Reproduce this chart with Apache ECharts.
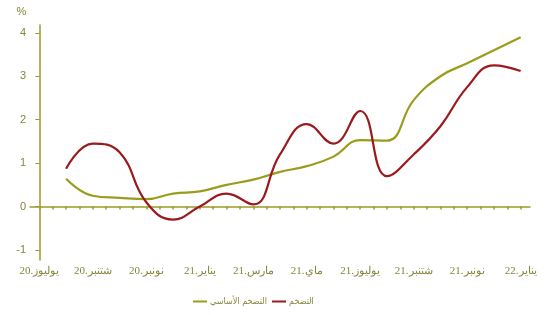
<!DOCTYPE html>
<html>
<head>
<meta charset="utf-8">
<script src="https://cdn.jsdelivr.net/npm/echarts@6/dist/echarts.min.js"></script>
<style>
  html, body { margin: 0; padding: 0; background: #fff; }
  #main { width: 548px; height: 315px; }
</style>
</head>
<body>
<div id="main"></div>
<script>
// months on the axis, Jul 2020 .. Jan 2022
var categories = [
  '20.يوليوز', '20.غشت', '20.شتنبر', '20.أكتوبر', '20.نونبر', '20.دجنبر',
  '21.يناير', '21.فبراير', '21.مارس', '21.أبريل', '21.ماي', '21.يونيو',
  '21.يوليوز', '21.غشت', '21.شتنبر', '21.أكتوبر', '21.نونبر', '21.دجنبر',
  '22.يناير'
];
// both series start in Aug 2020 (index 1)
var firstIndex = 1;
var coreInflation = [0.64, 0.25, 0.2, 0.17, 0.3, 0.35, 0.5, 0.62, 0.8, 0.93, 1.15, 1.53, 1.52, 2.45, 3.0, 3.3, 3.6, 3.9];
var inflation = [0.87, 1.45, 1.25, 0.1, -0.3, 0.0, 0.3, 0.05, 1.2, 1.9, 1.45, 2.2, 0.7, 1.2, 1.85, 2.75, 3.25, 3.12];
var yTicks = [-1, 0, 1, 2, 3, 4];
var seriesNames = ['التضخم الأساسي', 'التضخم'];

var olive = '#9a9a24';
var textColor = '#86863c';

function toPoints(values) {
  return values.map(function (v, i) { return [i + firstIndex, v]; });
}

var xTicks = [];
var xLabels = [];
for (var i = 0; i < categories.length; i++) {
  xTicks.push(i);
  if (i < categories.length - 1) xTicks.push(i + 0.5);
  if (i % 2 === 0) xLabels.push(i);
}

var chart = echarts.init(document.getElementById('main'), null, { renderer: 'canvas' });
var option = {
  backgroundColor: '#ffffff',
  animation: false,
  grid: { left: 30, right: 18, top: 25, bottom: 55, containLabel: false },
  legend: {
    left: 188,
    top: 292,
    itemGap: 5,
    itemWidth: 14,
    itemHeight: 2,
    icon: 'rect',
    textStyle: { color: textColor, fontSize: 9, fontFamily: 'DejaVu Sans Condensed', padding: [0, 0, 0, -2] },
    data: seriesNames
  },
  xAxis: {
    type: 'value',
    min: -0.35,
    max: 18.35,
    axisLine: { lineStyle: { color: olive, width: 1.5 } },
    axisTick: { customValues: xTicks, length: 3, lineStyle: { color: olive, width: 1.5 } },
    axisLabel: {
      customValues: xLabels,
      color: textColor,
      fontSize: 11,
      fontFamily: 'Liberation Serif',
      margin: 6,
      formatter: function (v) { return categories[Math.round(v)] || ''; }
    },
    splitLine: { show: false }
  },
  yAxis: {
    type: 'value',
    min: -1.23,
    max: 4.18,
    name: '%',
    nameLocation: 'end',
    nameGap: 8,
    nameTextStyle: { color: textColor, fontSize: 11, fontFamily: 'Liberation Sans', align: 'right', padding: [0, 13, 0, 0] },
    axisLine: { show: true, lineStyle: { color: olive, width: 1.5 } },
    axisTick: { show: true, customValues: yTicks, length: 4, lineStyle: { color: olive, width: 1 } },
    axisLabel: {
      customValues: yTicks,
      color: textColor,
      fontSize: 11,
      fontFamily: 'Liberation Sans',
      margin: 4
    },
    splitLine: { show: false }
  },
  series: [
    {
      name: seriesNames[0],
      type: 'line',
      smooth: 0.45,
      showSymbol: false,
      color: '#9c9c1c',
      lineStyle: { width: 2.2, color: '#9c9c1c' },
      data: toPoints(coreInflation)
    },
    {
      name: seriesNames[1],
      type: 'line',
      smooth: 0.45,
      showSymbol: false,
      color: '#9a1a1e',
      lineStyle: { width: 2.2, color: '#9a1a1e' },
      data: toPoints(inflation)
    }
  ]
};
chart.setOption(option);
</script>
</body>
</html>
